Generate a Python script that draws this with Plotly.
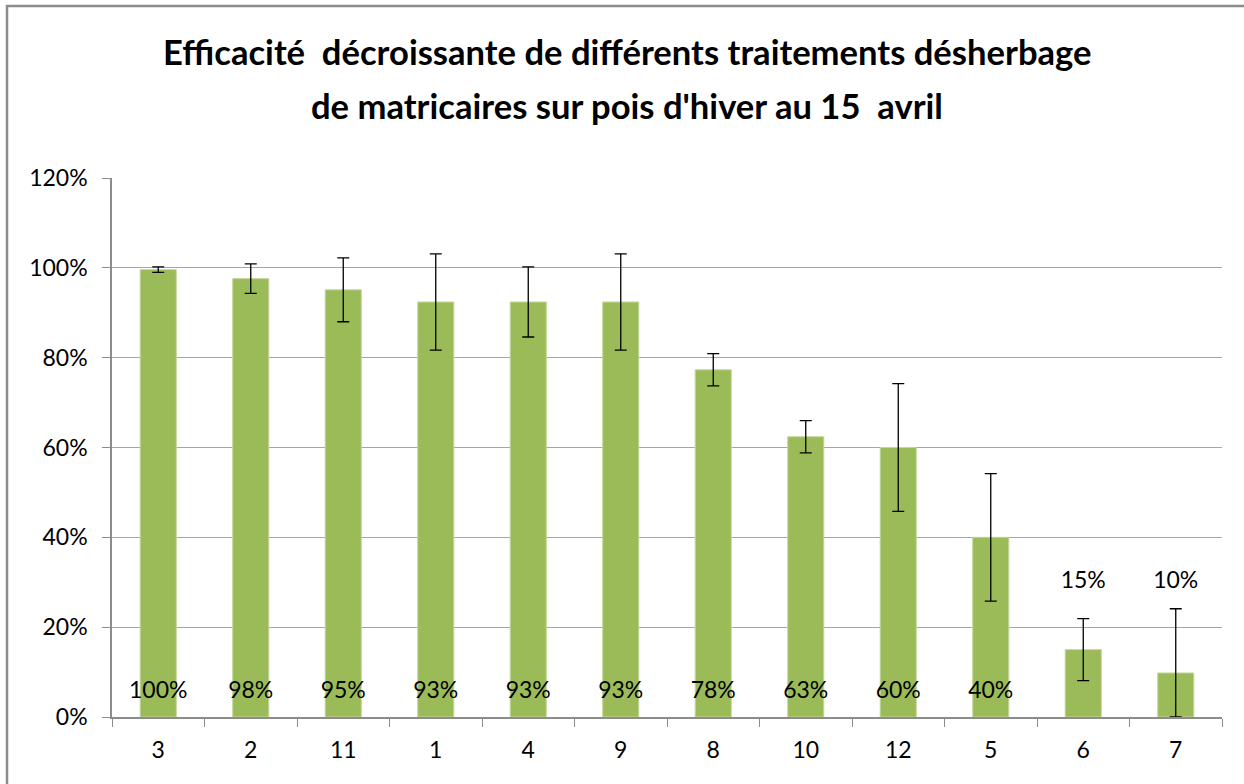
import plotly.graph_objects as go

categories = ["3", "2", "11", "1", "4", "9", "8", "10", "12", "5", "6", "7"]
efficacy = [0.996, 0.976, 0.951, 0.924, 0.924, 0.924, 0.773, 0.624, 0.600, 0.400, 0.150, 0.098]
err_plus = [0.006, 0.033, 0.071, 0.107, 0.078, 0.107, 0.036, 0.036, 0.142, 0.142, 0.069, 0.143]
err_minus = [0.006, 0.033, 0.071, 0.107, 0.078, 0.107, 0.036, 0.036, 0.142, 0.142, 0.069, 0.098]
labels = ["100%", "98%", "95%", "93%", "93%", "93%", "78%", "63%", "60%", "40%", "15%", "10%"]
title_lines = ["Efficacité  décroissante de différents traitements désherbage",
               "de matricaires sur pois d'hiver au 15  avril"]

FONT = "Lato"
W, H = 1244, 784
ml, mr, mt, mb = 112, 22, 178, 67
pw = W - ml - mr
ph = H - mt - mb

fig = go.Figure()
fig.add_trace(go.Bar(
    x=categories, y=efficacy,
    marker=dict(color="#9BBB59", line=dict(color="#c3d69b", width=1)),
    error_y=dict(type="data", symmetric=False, array=err_plus, arrayminus=err_minus,
                 color="black", thickness=1.3, width=6),
    hoverinfo="x+y",
))

# data labels: inside base for tall bars, above error bar for short ones
lab_y = [0.056 if v > 0.3 else 0.30 for v in efficacy]
fig.add_trace(go.Scatter(
    x=categories, y=lab_y, mode="text", text=labels,
    textfont=dict(family=FONT, size=23, color="black"),
    textposition="middle center", hoverinfo="skip", cliponaxis=False,
))

# chart frame (extends beyond right/bottom edges like the reference)
fig.add_shape(type="rect", xref="paper", yref="paper",
              x0=(7 - ml) / pw, x1=(W + 20 - ml) / pw,
              y0=-(mb + 20) / ph, y1=(H - mb - 6) / ph,
              line=dict(color="#8c8c8c", width=2.5), fillcolor="rgba(0,0,0,0)", layer="below")

# title as two lines positioned like the reference
for txt, yc in zip(title_lines, [52, 106]):
    fig.add_annotation(text="<b>%s</b>" % txt, xref="paper", yref="paper",
                       x=(627 - ml) / pw, y=(H - mb - yc) / ph,
                       xanchor="center", yanchor="middle", showarrow=False,
                       font=dict(family=FONT, size=34.6, color="black"))

fig.update_layout(
    width=W, height=H,
    margin=dict(l=ml, r=mr, t=mt, b=mb),
    paper_bgcolor="white", plot_bgcolor="white",
    showlegend=False,
    bargap=0.61,
    font=dict(family=FONT, size=23, color="black"),
    xaxis=dict(
        type="category", range=[-0.5, len(categories) - 0.5],
        tickson="boundaries", ticks="outside", ticklen=8,
        tickcolor="#8c8c8c", showline=True, linecolor="#8c8c8c", linewidth=1.5,
        showgrid=False, tickfont=dict(family=FONT, size=23), ticklabelstandoff=12,
        fixedrange=True,
    ),
    yaxis=dict(
        range=[0, 1.2], dtick=0.2, tickformat=".0%", ticks="outside", ticklen=8,
        tickcolor="#8c8c8c", showline=True, linecolor="#8c8c8c", linewidth=1.5,
        showgrid=True, gridcolor="#a6a6a6", gridwidth=1.2, zeroline=False,
        tickfont=dict(family=FONT, size=23), ticklabelstandoff=10, fixedrange=True,
    ),
)

fig.write_html("out.html", config={"displayModeBar": False},
               post_script="document.body.style.margin='0';document.body.style.overflow='hidden';")
